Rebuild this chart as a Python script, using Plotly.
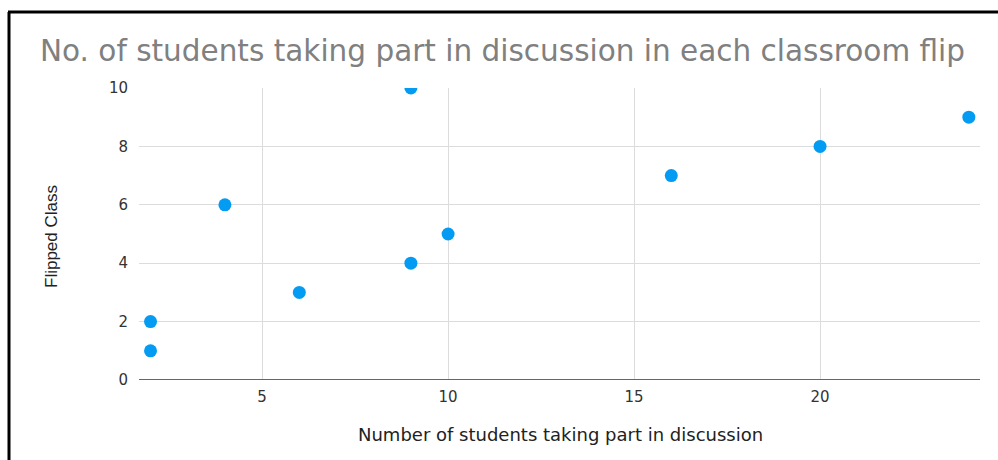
import plotly.graph_objects as go

# Data
students = [2, 2, 4, 6, 9, 9, 10, 16, 20, 24]
flipped_class = [1, 2, 6, 3, 10, 4, 5, 7, 8, 9]
x_ticks = [5, 10, 15, 20]
y_ticks = [0, 2, 4, 6, 8, 10]

title_text = "No. of students taking part in discussion in each classroom flip"
x_title = "Number of students taking part in discussion"
y_title = "Flipped Class"

W, H = 998, 460
L, R, T, B = 139, 18, 88, 80
pw, ph = W - L - R, H - T - B
WIDE = "DejaVu Sans, Verdana, sans-serif"

fig = go.Figure()
fig.add_trace(go.Scatter(
    x=students, y=flipped_class, mode="markers",
    marker=dict(color="#049cf2", size=13, line=dict(width=0)),
    cliponaxis=True, showlegend=False,
))

fig.update_layout(
    width=W, height=H,
    margin=dict(l=L, r=R, t=T, b=B),
    paper_bgcolor="white", plot_bgcolor="white",
    font=dict(family=WIDE, color="#444444"),
    title=dict(text=title_text, x=40 / W, xanchor="left", xref="container",
               y=1 - 51 / H, yanchor="middle", yref="container",
               font=dict(family=WIDE, size=29.5, color="#808080")),
    xaxis=dict(range=[1.69, 24.3], tickvals=x_ticks, showgrid=True,
               gridcolor="#dcdcdc", gridwidth=1, zeroline=False,
               showline=False, ticks="", ticklabelstandoff=6,
               tickfont=dict(family=WIDE, size=15, color="#333333"),
               fixedrange=True),
    yaxis=dict(range=[0, 10], tickvals=y_ticks, showgrid=True,
               gridcolor="#dcdcdc", gridwidth=1, zeroline=False,
               showline=False, ticks="", ticklabelstandoff=10,
               tickfont=dict(family=WIDE, size=15, color="#333333"), fixedrange=True),
    annotations=[
        dict(text=x_title, xref="paper", yref="paper",
             x=(560 - L) / pw, y=-(434 - (T + ph)) / ph,
             xanchor="center", yanchor="middle", showarrow=False,
             font=dict(family=WIDE, size=18, color="#222222")),
        dict(text=y_title, xref="paper", yref="paper",
             x=-(L - 52) / pw, y=(H - B - 237) / ph,
             xanchor="center", yanchor="middle", textangle=-90, showarrow=False,
             font=dict(family="Liberation Sans Narrow, Arial Narrow, Liberation Sans, Arial",
                       size=17, color="#222222")),
    ],
    shapes=[
        # bottom axis line
        dict(type="line", xref="paper", yref="y", x0=0, x1=1, y0=0, y1=0,
             line=dict(color="#666666", width=2)),
        # outer frame: top and left edges
        dict(type="line", xref="paper", yref="paper",
             x0=(8 - L) / pw, x1=(W - L) / pw,
             y0=(H - B - 12) / ph, y1=(H - B - 12) / ph,
             line=dict(color="black", width=3)),
        dict(type="line", xref="paper", yref="paper",
             x0=(9 - L) / pw, x1=(9 - L) / pw,
             y0=(H - B - 12) / ph, y1=-(B + 5) / ph,
             line=dict(color="black", width=3)),
    ],
)

fig.write_html("out.html")
